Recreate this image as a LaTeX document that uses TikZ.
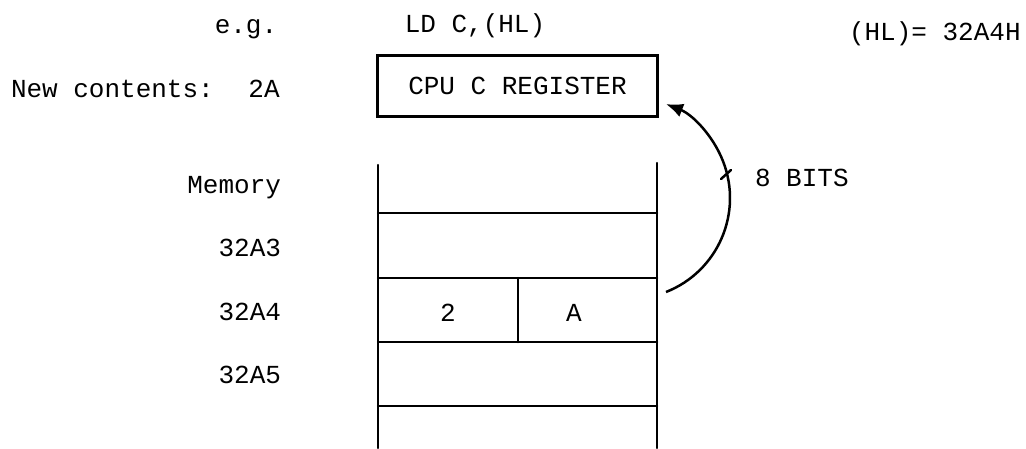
\documentclass[tikz,border=0pt]{standalone}
\usepackage{fontspec}
\newfontfamily\twfont{Liberation Mono}
\usetikzlibrary{arrows.meta}
\tikzset{
  lbl/.style={inner sep=0pt, outer sep=0pt, font=\twfont\fontsize{26}{30}\selectfont},
  ink/.style={line width=2.5pt, line cap=round},
  regbox/.style={draw, line width=2.5pt, inner sep=0pt, minimum width=280pt, minimum height=61pt, font=\twfont\fontsize{26}{30}\selectfont},
  movearrow/.style={line width=2.5pt, -{Latex[length=17pt,width=14pt]}}
}
\begin{document}
\begin{tikzpicture}[x=1pt,y=-1pt]
\useasboundingbox (0,0) rectangle (1026,448);
% top texts
\node[lbl, anchor=base] (eg) at (246,33) {e.g.};
\node[lbl, anchor=base] (instr) at (475,32) {LD C,(HL)};
\node[lbl, anchor=base west] (hl) at (849,40) {(HL)= 32A4H};
\node[lbl, anchor=base west] (newc) at (11,97) {New contents:};
\node[lbl, anchor=base] (newv) at (264,97) {2A};
% register
\node[regbox] (reg) at (517.5,86) {CPU C REGISTER};
% memory column
\coordinate (mTL) at (378,165);
\coordinate (mTR) at (657,163);
\coordinate (mBL) at (378,448);
\coordinate (mBR) at (657,448);
\draw[ink] (mTL) -- (mBL);
\draw[ink] (mTR) -- (mBR);
\foreach \yy in {213,278,342,406} {
  \draw[ink] (378,\yy) -- (657,\yy);
}
\draw[ink] (518,278) -- (518,342);
% cell contents
\node[lbl, anchor=base] (hi) at (448,321) {2};
\node[lbl, anchor=base] (lo) at (574,321) {A};
% address labels
\node[lbl, anchor=base east] (mem) at (281,193) {Memory};
\node[lbl, anchor=base east] (a3) at (281,256) {32A3};
\node[lbl, anchor=base east] (a4) at (281,320) {32A4};
\node[lbl, anchor=base east] (a5) at (281,383) {32A5};
% transfer arrow
\coordinate (arcstart) at (666,292);
\draw[movearrow] (arcstart) arc[start angle=68.5, end angle=-68.5, radius=101];
\coordinate (tickA) at (721,179);
\coordinate (tickB) at (731,170);
\draw[ink] (tickA) -- (tickB);
\node[lbl, anchor=base west] (bits) at (755,186) {8 BITS};
\end{tikzpicture}
\end{document}
